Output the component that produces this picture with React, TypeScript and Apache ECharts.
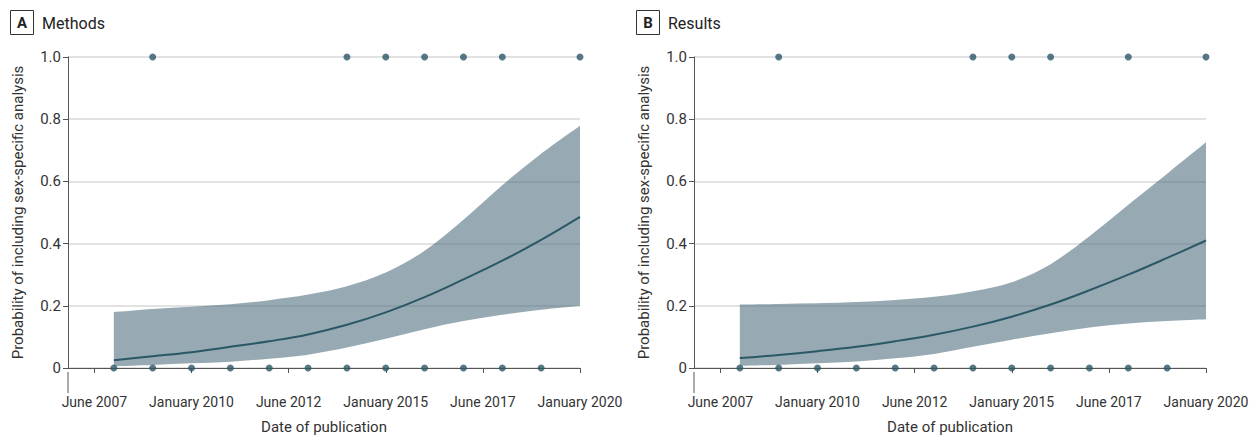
import React, { useEffect, useRef } from "react";
import * as echarts from "echarts";

const years = [2008, 2009, 2010, 2011, 2012, 2013, 2014, 2015, 2016, 2017, 2018, 2019, 2020];

const methodsFit = [0.025, 0.038, 0.051, 0.068, 0.086, 0.108, 0.139, 0.179, 0.228, 0.285, 0.345, 0.412, 0.486];
const methodsUpper = [0.18, 0.19, 0.197, 0.205, 0.218, 0.236, 0.263, 0.307, 0.377, 0.477, 0.588, 0.689, 0.779];
const methodsLower = [0.006, 0.01, 0.015, 0.02, 0.03, 0.043, 0.066, 0.094, 0.125, 0.151, 0.171, 0.187, 0.2];

const resultsFit = [0.032, 0.042, 0.054, 0.068, 0.086, 0.107, 0.133, 0.165, 0.204, 0.25, 0.3, 0.354, 0.41];
const resultsUpper = [0.204, 0.206, 0.208, 0.212, 0.219, 0.229, 0.247, 0.276, 0.334, 0.424, 0.525, 0.625, 0.726];
const resultsLower = [0.007, 0.01, 0.015, 0.021, 0.031, 0.045, 0.068, 0.091, 0.112, 0.13, 0.143, 0.151, 0.157];

const methodsYes = [2009, 2014, 2015, 2016, 2017, 2018, 2020];
const methodsNo = [2008, 2009, 2010, 2011, 2012, 2013, 2014, 2015, 2016, 2017, 2018, 2019];
const resultsYes = [2009, 2014, 2015, 2016, 2018, 2020];
const resultsNo = [2008, 2009, 2010, 2011, 2012, 2013, 2014, 2015, 2016, 2017, 2018, 2019];

const xTickValues = [2007.5, 2010, 2012.5, 2015, 2017.5, 2020];
const xTickLabels = ["June 2007", "January 2010", "June 2012", "January 2015", "June 2017", "January 2020"];
const yTickValues = [0, 0.2, 0.4, 0.6, 0.8, 1.0];
const yTickLabels = ["0", "0.2", "0.4", "0.6", "0.8", "1.0"];

const panels = [
  { letter: "A", title: "Methods", fit: methodsFit, upper: methodsUpper, lower: methodsLower, yes: methodsYes, no: methodsNo },
  { letter: "B", title: "Results", fit: resultsFit, upper: resultsUpper, lower: resultsLower, yes: resultsYes, no: resultsNo },
];

const FONT = "Roboto, 'Liberation Sans', sans-serif";
const TEXT = "#333333";
const AXIS = "#555555";
const BAND = "rgba(82,112,127,0.6)";
const LINE = "#2b5866";
const DOT = "#2d5867";

// Catmull-Rom spline through pixel points -> SVG path commands (continuing from current point)
function splineSegs(pts: number[][]): string {
  let d = "";
  const n = pts.length;
  for (let i = 0; i < n - 1; i++) {
    const p0 = pts[Math.max(0, i - 1)];
    const p1 = pts[i];
    const p2 = pts[i + 1];
    const p3 = pts[Math.min(n - 1, i + 2)];
    const c1x = p1[0] + (p2[0] - p0[0]) / 6;
    const c1y = p1[1] + (p2[1] - p0[1]) / 6;
    const c2x = p2[0] - (p3[0] - p1[0]) / 6;
    const c2y = p2[1] - (p3[1] - p1[1]) / 6;
    d += ` C ${c1x} ${c1y} ${c2x} ${c2y} ${p2[0]} ${p2[1]}`;
  }
  return d;
}

export default function App() {
  const ref = useRef<HTMLDivElement>(null);
  useEffect(() => {
    document.body.style.margin = "0";
    const chart = echarts.init(ref.current!, undefined, { renderer: "svg" });
    const gridLefts = [68, 694];
    const gridWidth = 512;
    const gridTop = 57;
    const gridHeight = 315;

    const grid = gridLefts.map((l) => ({ left: l, top: gridTop, width: gridWidth, height: gridHeight }));
    const xAxis = gridLefts.map((_, i) => ({
      type: "value",
      gridIndex: i,
      min: 2006.82,
      max: 2020,
      offset: 21,
      position: "bottom",
      splitLine: { show: false },
      axisLine: { show: true, lineStyle: { color: AXIS, width: 1 } },
      axisTick: { show: true, length: 5, customValues: xTickValues, lineStyle: { color: AXIS } },
      axisLabel: {
        customValues: xTickValues,
        formatter: (v: number) => {
          const idx = xTickValues.findIndex((t) => Math.abs(t - v) < 1e-6);
          return idx >= 0 ? xTickLabels[idx] : "";
        },
        color: TEXT,
        fontSize: 14,
        fontFamily: FONT,
        margin: 6,
        showMinLabel: true,
        showMaxLabel: true,
      },
      name: "Date of publication",
      nameLocation: "middle",
      nameGap: 30,
      nameTextStyle: { color: TEXT, fontSize: 15, fontFamily: FONT },
    }));
    const yAxis = gridLefts.map((_, i) => ({
      type: "value",
      gridIndex: i,
      min: 0,
      max: 1,
      interval: 0.2,
      axisLine: { show: true, lineStyle: { color: AXIS, width: 1 } },
      axisTick: { show: true, length: 5, lineStyle: { color: AXIS } },
      axisLabel: {
        formatter: (v: number) => {
          const idx = yTickValues.findIndex((t) => Math.abs(t - v) < 1e-6);
          return idx >= 0 ? yTickLabels[idx] : "";
        },
        color: TEXT,
        fontSize: 15,
        fontFamily: FONT,
        margin: 7,
      },
      splitLine: { show: true, lineStyle: { color: "#d9d9d9", width: 1.5 } },
      name: "Probability of including sex-specific analysis",
      nameLocation: "middle",
      nameGap: 43,
      nameTextStyle: { color: TEXT, fontSize: 15, fontFamily: FONT },
    }));

    const series: any[] = [];
    panels.forEach((p, i) => {
      series.push({
        type: "custom",
        xAxisIndex: i,
        yAxisIndex: i,
        data: years.map((y, k) => [y, p.lower[k], p.upper[k]]),
        encode: { x: 0, y: [1, 2] },
        silent: true,
        z: 1,
        renderItem: (params: any, api: any) => {
          if (params.dataIndex !== 0) return null;
          const up = years.map((y, k) => api.coord([y, p.upper[k]]));
          const lo = years.map((y, k) => api.coord([y, p.lower[k]])).reverse();
          let d = `M ${up[0][0]} ${up[0][1]}` + splineSegs(up);
          d += ` L ${lo[0][0]} ${lo[0][1]}` + splineSegs(lo) + " Z";
          return {
            type: "path",
            shape: { pathData: d },
            style: { fill: BAND, stroke: "none" },
          };
        },
      });
      series.push({
        type: "line",
        xAxisIndex: i,
        yAxisIndex: i,
        data: years.map((y, k) => [y, p.fit[k]]),
        symbol: "none",
        smooth: 0.4,
        lineStyle: { color: LINE, width: 2 },
        z: 3,
      });
      series.push({
        type: "scatter",
        xAxisIndex: i,
        yAxisIndex: i,
        data: [...p.no.map((y) => [y, 0]), ...p.yes.map((y) => [y, 1])],
        symbol: "circle",
        symbolSize: 7,
        itemStyle: { color: DOT },
        z: 4,
      });
    });

    const graphic: any[] = [];
    const titleX = [10, 636];
    panels.forEach((p, i) => {
      const gx = gridLefts[i];
      graphic.push({
        type: "line",
        shape: { x1: gx, y1: gridTop + gridHeight, x2: gx, y2: gridTop + gridHeight + 21 },
        style: { stroke: AXIS, lineWidth: 1 },
      });
      graphic.push({
        type: "rect",
        shape: { x: titleX[i] + 0.5, y: 10.5, width: 23, height: 24 },
        style: { fill: "#fff", stroke: "#333", lineWidth: 1 },
      });
      graphic.push({
        type: "text",
        x: titleX[i] + 12,
        y: 23,
        style: { text: p.letter, fontSize: 15, fontWeight: "bold", fontFamily: FONT, fill: "#222", align: "center", verticalAlign: "middle" },
      });
      graphic.push({
        type: "text",
        x: titleX[i] + 32,
        y: 23,
        style: { text: p.title, fontSize: 16, fontFamily: FONT, fill: "#222", align: "left", verticalAlign: "middle" },
      });
    });

    chart.setOption({
      animation: false,
      backgroundColor: "#ffffff",
      grid,
      xAxis,
      yAxis,
      series,
      graphic,
    });
    return () => chart.dispose();
  }, []);
  return <div ref={ref} style={{ width: 1260, height: 439 }} />;
}
